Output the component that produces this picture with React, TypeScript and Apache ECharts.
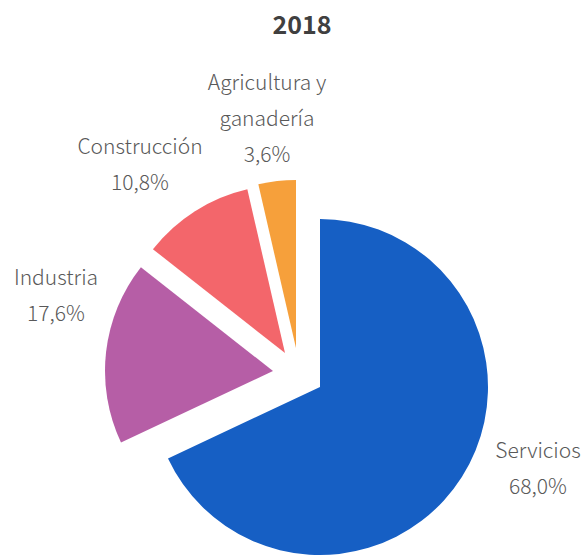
import React, { useEffect, useRef } from 'react';
import * as echarts from 'echarts';

const chartTitle = '2018';
const categories = ['Servicios', 'Industria', 'Construcción', 'Agricultura y ganadería'];
const shares = [68.0, 17.6, 10.8, 3.6];

const colors = ['#165FC4', '#B65EA6', '#F3666B', '#F6A03B'];
// pixel centre of each (exploded) slice and of each label block
const sliceCenters = [[320, 387], [273, 371], [285, 353], [296, 348]];
const labelAnchors = [[538, 467], [56, 294], [140, 163], [267, 117]];

const fmt = (v: number) => v.toFixed(1).replace('.', ',') + '%';

export default function App() {
  const ref = useRef<HTMLDivElement>(null);
  useEffect(() => {
    if (!ref.current) return;
    const chart = echarts.init(ref.current, null, { renderer: 'svg' });
    const font = "'Noto Sans CJK JP', 'Noto Sans', sans-serif";
    chart.setOption({
      animation: false,
      backgroundColor: '#ffffff',
      title: {
        text: chartTitle,
        left: 297,
        top: 5,
        textAlign: 'center',
        textStyle: { fontFamily: font, fontSize: 25, fontWeight: 'bold', color: '#404040' },
      },
      series: categories.map((_, k) => ({
        type: 'pie',
        center: sliceCenters[k],
        radius: 168,
        startAngle: 90,
        clockwise: true,
        silent: true,
        avoidLabelOverlap: false,
        emphasis: { disabled: true },
        labelLine: { show: false },
        label: {
          show: true,
          position: 'center',
          fontFamily: font,
          fontSize: 21,
          fontWeight: 300,
          lineHeight: 36,
          color: '#595959',
          align: 'center',
          formatter: (p: any) => p.name.replace(' y ', ' y\n') + '\n' + fmt(p.value),
        },
        labelLayout: {
          x: labelAnchors[k][0],
          y: labelAnchors[k][1],
          align: 'center',
          verticalAlign: 'middle',
        },
        data: categories.map((name, i) => ({
          name,
          value: shares[i],
          itemStyle: { color: i === k ? colors[i] : 'rgba(0,0,0,0)', borderWidth: 0 },
          label: { show: i === k },
        })),
      })),
    });
    return () => chart.dispose();
  }, []);
  return (
    <div
      ref={ref}
      style={{ position: 'absolute', left: 0, top: 0, width: 586, height: 556 }}
    />
  );
}
